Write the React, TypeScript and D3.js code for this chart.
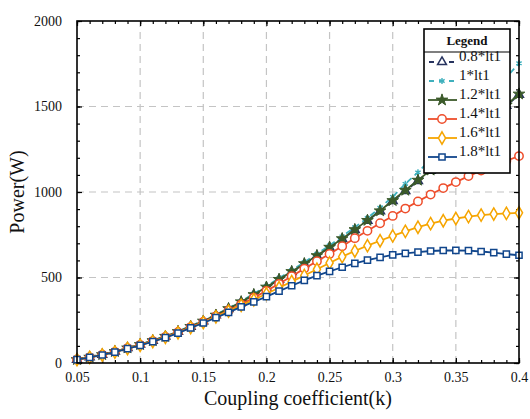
import { useEffect, useRef } from "react";
import * as d3 from "d3";

// coupling coefficient sweep
const kValues = [
  0.05, 0.06, 0.07, 0.08, 0.09, 0.1, 0.11, 0.12, 0.13, 0.14, 0.15, 0.16,
  0.17, 0.18, 0.19, 0.2, 0.21, 0.22, 0.23, 0.24, 0.25, 0.26, 0.27, 0.28,
  0.29, 0.3, 0.31, 0.32, 0.33, 0.34, 0.35, 0.36, 0.37, 0.38, 0.39, 0.4,
];

const p08 = [
  20, 34, 49, 67, 88, 108, 130, 155, 183, 213, 244, 279, 316, 356, 398, 442,
  487, 533, 579, 626, 675, 725, 778, 832, 888, 947, 1006, 1065, 1124, 1184,
  1246, 1308, 1372, 1438, 1504, 1569,
];
const p10 = [
  20, 34, 49, 67, 88, 109, 132, 157, 185, 216, 248, 283, 321, 362, 405, 450,
  496, 543, 590, 638, 688, 740, 794, 848, 908, 972, 1048, 1115, 1190, 1267,
  1345, 1424, 1505, 1587, 1670, 1753,
];
const p12 = [
  20, 34, 49, 67, 88, 108, 131, 156, 184, 214, 245, 280, 318, 358, 400, 444,
  489, 535, 581, 628, 677, 727, 780, 834, 890, 950, 1010, 1069, 1128, 1188,
  1250, 1312, 1376, 1442, 1508, 1573,
];
const p14 = [
  20, 33, 48, 65, 86, 106, 128, 152, 180, 210, 240, 273, 307, 343, 382, 422,
  463, 507, 552, 595, 638, 683, 730, 773, 817, 860, 903, 945, 985, 1023,
  1058, 1093, 1125, 1155, 1183, 1210,
];
const p16 = [
  20, 33, 47, 64, 85, 104, 126, 150, 177, 207, 237, 270, 303, 337, 370, 405,
  440, 476, 512, 548, 585, 622, 655, 686, 715, 743, 770, 794, 815, 832, 845,
  856, 865, 871, 875, 878,
];
const p18 = [
  20, 33, 47, 64, 84, 103, 125, 148, 175, 205, 234, 265, 296, 328, 357, 388,
  420, 452, 483, 511, 536, 560, 583, 602, 618, 632, 641, 648, 655, 658, 659,
  657, 652, 645, 637, 630,
];

const seriesNames = ["0.8*lt1", "1*lt1", "1.2*lt1", "1.4*lt1", "1.6*lt1", "1.8*lt1"];
const seriesValues = [p08, p10, p12, p14, p16, p18];

const xTicks = [0.05, 0.1, 0.15, 0.2, 0.25, 0.3, 0.35, 0.4];
const yTicks = [0, 500, 1000, 1500, 2000];

const FONT = "'Liberation Serif', 'Times New Roman', serif";

type Style = {
  color: string;
  dash: string | null;
  symbol: d3.SymbolType;
  size: number;
  fill: string;
  strokeMarker: number;
};

const styles: Style[] = [
  { color: "#27335f", dash: "6,4", symbol: d3.symbolTriangle, size: 34, fill: "#fff", strokeMarker: 1.5 },
  { color: "#3fb0bd", dash: "6,4", symbol: d3.symbolAsterisk, size: 26, fill: "none", strokeMarker: 1.4 },
  { color: "#3b5a2a", dash: null, symbol: d3.symbolStar, size: 42, fill: "#3b5a2a", strokeMarker: 1 },
  { color: "#ee4e2c", dash: null, symbol: d3.symbolCircle, size: 55, fill: "#fff", strokeMarker: 1.5 },
  { color: "#f6a500", dash: null, symbol: d3.symbolDiamond, size: 44, fill: "#fff", strokeMarker: 1.5 },
  { color: "#11468c", dash: null, symbol: d3.symbolSquare, size: 38, fill: "#fff", strokeMarker: 1.5 },
];

export default function App() {
  const svgRef = useRef<SVGSVGElement>(null);

  useEffect(() => {
    if (!svgRef.current) return;
    const svg = d3.select(svgRef.current);
    svg.selectAll("*").remove();

    const left = 77;
    const right = 519;
    const top = 21;
    const bottom = 363;

    const x = d3.scaleLinear().domain([0.05, 0.4]).range([left, right]);
    const y = d3.scaleLinear().domain([0, 2000]).range([bottom, top]);

    svg.append("rect").attr("width", 530).attr("height", 419).attr("fill", "#fff");

    // Gridlines
    const grid = svg.append("g").attr("stroke", "#c4c4c4").attr("stroke-width", 1.2).attr("stroke-dasharray", "7,5");
    xTicks.slice(1, -1).forEach((t) => {
      grid.append("line").attr("x1", x(t)).attr("x2", x(t)).attr("y1", bottom).attr("y2", top);
    });
    yTicks.slice(1, -1).forEach((t) => {
      grid.append("line").attr("x1", left).attr("x2", right).attr("y1", y(t)).attr("y2", y(t));
    });

    // Minor + major ticks (inward) on all sides
    const xMinor = d3.range(0.05, 0.4001, 0.01);
    const yMinor = d3.range(0, 2001, 100);

    const styleAxis = (sel: d3.Selection<SVGGElement, unknown, null, undefined>) => {
      sel.select(".domain").remove();
      sel.selectAll("line").attr("stroke", "#000").attr("stroke-width", 1.2);
      sel.selectAll("text").attr("font-family", FONT).attr("font-size", 14).attr("fill", "#111");
    };

    svg.append("g").attr("transform", `translate(0,${bottom})`)
      .call(d3.axisBottom(x).tickValues(xMinor).tickSize(-3).tickFormat(() => ""))
      .call(styleAxis);
    svg.append("g").attr("transform", `translate(0,${top})`)
      .call(d3.axisTop(x).tickValues(xMinor).tickSize(-3).tickFormat(() => ""))
      .call(styleAxis);
    svg.append("g").attr("transform", `translate(${left},0)`)
      .call(d3.axisLeft(y).tickValues(yMinor).tickSize(-3).tickFormat(() => ""))
      .call(styleAxis);
    svg.append("g").attr("transform", `translate(${right},0)`)
      .call(d3.axisRight(y).tickValues(yMinor).tickSize(-3).tickFormat(() => ""))
      .call(styleAxis);

    svg.append("g").attr("transform", `translate(0,${bottom})`)
      .call(d3.axisBottom(x).tickValues(xTicks).tickSize(-5).tickPadding(9).tickFormat((d) => `${d}`))
      .call(styleAxis);
    svg.append("g").attr("transform", `translate(0,${top})`)
      .call(d3.axisTop(x).tickValues(xTicks).tickSize(-5).tickFormat(() => ""))
      .call(styleAxis);
    svg.append("g").attr("transform", `translate(${left},0)`)
      .call(d3.axisLeft(y).tickValues(yTicks).tickSize(-5).tickPadding(15).tickFormat((d) => `${d}`))
      .call(styleAxis);
    svg.append("g").attr("transform", `translate(${right},0)`)
      .call(d3.axisRight(y).tickValues(yTicks).tickSize(-5).tickFormat(() => ""))
      .call(styleAxis);

    // Series
    seriesValues.forEach((vals, si) => {
      const st = styles[si];
      const pts = kValues.map((k, i) => ({ k, v: vals[i] }));
      const line = d3.line<{ k: number; v: number }>().x((d) => x(d.k)).y((d) => y(d.v));
      svg.append("path")
        .datum(pts)
        .attr("fill", "none")
        .attr("stroke", st.color)
        .attr("stroke-width", 1.8)
        .attr("stroke-dasharray", st.dash ?? null)
        .attr("d", line);
      const sym = d3.symbol().type(st.symbol).size(st.size);
      svg.append("g")
        .selectAll("path")
        .data(pts)
        .enter()
        .append("path")
        .attr("transform", (d) => `translate(${x(d.k)},${y(d.v)})`)
        .attr("d", sym)
        .attr("fill", st.fill)
        .attr("stroke", st.color)
        .attr("stroke-width", st.strokeMarker);
    });

    // Frame
    svg.append("rect")
      .attr("x", left).attr("y", top)
      .attr("width", right - left).attr("height", bottom - top)
      .attr("fill", "none").attr("stroke", "#000").attr("stroke-width", 1.6);

    // Axis labels
    svg.append("text")
      .attr("x", (left + right) / 2).attr("y", 405)
      .attr("text-anchor", "middle")
      .attr("font-family", FONT).attr("font-size", 20).attr("fill", "#111")
      .text("Coupling coefficient(k)");
    svg.append("text")
      .attr("transform", `translate(24,${(top + bottom) / 2}) rotate(-90)`)
      .attr("text-anchor", "middle")
      .attr("font-family", FONT).attr("font-size", 20).attr("fill", "#111")
      .text("Power(W)");

    // Legend
    const lg = svg.append("g");
    const lx = 424, ly = 29, lw = 86, lh = 144;
    lg.append("rect").attr("x", lx).attr("y", ly).attr("width", lw).attr("height", lh)
      .attr("fill", "#fff").attr("stroke", "#000").attr("stroke-width", 1.6);
    lg.append("line").attr("x1", lx).attr("x2", lx + lw).attr("y1", ly + 23).attr("y2", ly + 23)
      .attr("stroke", "#000").attr("stroke-width", 1.2);
    lg.append("text").attr("x", lx + lw / 2).attr("y", ly + 16).attr("text-anchor", "middle")
      .attr("font-family", FONT).attr("font-weight", "bold").attr("font-size", 13).attr("fill", "#111")
      .text("Legend");
    seriesNames.forEach((name, i) => {
      const st = styles[i];
      const cy = 62 + i * 19;
      lg.append("line").attr("x1", 428).attr("x2", 457).attr("y1", cy).attr("y2", cy)
        .attr("stroke", st.color).attr("stroke-width", 1.8)
        .attr("stroke-dasharray", st.dash ? "5,5" : null)
        .attr("stroke-dashoffset", st.dash ? -1 : null);
      lg.append("path")
        .attr("transform", `translate(442,${cy})`)
        .attr("d", d3.symbol().type(st.symbol).size(st.size)())
        .attr("fill", st.fill).attr("stroke", st.color).attr("stroke-width", st.strokeMarker);
      lg.append("text").attr("x", 459).attr("y", cy - 1)
        .attr("font-family", FONT).attr("font-size", 15).attr("fill", "#111")
        .text(name);
    });
  }, []);

  return (
    <svg
      ref={svgRef}
      width={530}
      height={419}
      style={{ position: "absolute", left: 0, top: 0 }}
    />
  );
}
